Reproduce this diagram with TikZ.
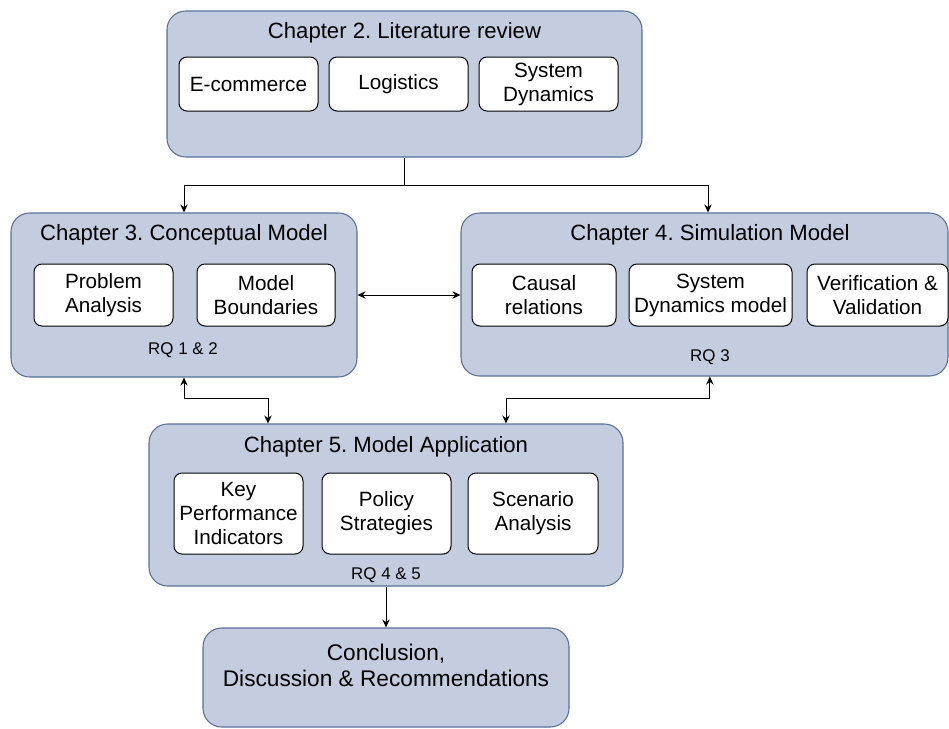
\documentclass[tikz,border=0pt]{standalone}
\usepackage{fontspec}
\setmainfont{Liberation Sans}
\usetikzlibrary{arrows.meta}
\definecolor{chapfill}{RGB}{196,205,223}
\definecolor{chapline}{RGB}{90,112,150}
\frenchspacing
\begin{document}
\begin{tikzpicture}[x=0.75pt,y=-0.75pt,
  chapter/.style={draw=chapline, fill=chapfill, line width=0.8pt,
    rounded corners=14pt, inner sep=0pt},
  topic/.style={draw=black, fill=white, line width=0.75pt,
    rounded corners=6pt, inner sep=0pt, align=center,
    font=\fontsize{15.5}{18}\selectfont},
  title/.style={font=\fontsize{16.6}{19}\selectfont, inner sep=0pt},
  rq/.style={font=\fontsize{12.7}{14}\selectfont, inner sep=0pt},
  link/.style={line width=0.75pt, -{Stealth[length=6pt,width=5.5pt]}},
  dlink/.style={line width=0.75pt, {Stealth[length=6pt,width=5.5pt]}-{Stealth[length=6pt,width=5.5pt]}}]

\useasboundingbox (0,0) rectangle (949,728);

% chapter containers
\node[chapter, minimum width=356.25pt, minimum height=109.5pt] (ch2) at (404.5,84) {};
\node[chapter, minimum width=259.5pt, minimum height=123pt] (ch3) at (184,295) {};
\node[chapter, minimum width=365.25pt, minimum height=122.25pt] (ch4) at (704.5,294.5) {};
\node[chapter, minimum width=355.5pt, minimum height=121.5pt] (ch5) at (386,505) {};
\node[chapter, minimum width=274.5pt, minimum height=74.25pt] (conc) at (386,677.5) {};

% chapter titles
\node[title] (t2) at (404.5,33) {Chapter 2. Literature review};
\node[title] (t3) at (184,235) {Chapter 3. Conceptual Model};
\node[title] (t4) at (710,235) {Chapter 4. Simulation Model};
\node[title] (t5) at (386,447) {Chapter 5. Model Application};
\node[font=\fontsize{17}{19.5}\selectfont, align=center, inner sep=0pt] (tc) at (386,665)
  {Conclusion,\\Discussion \& Recommendations};

% research question labels
\node[rq] (rq12) at (183,350) {RQ 1 \& 2};
\node[rq] (rq3) at (710,357) {RQ 3};
\node[rq] (rq45) at (386,575) {RQ 4 \& 5};

% chapter 2 topics
\node[topic, minimum width=104.25pt, minimum height=40.5pt] (ecom) at (248.5,84) {E-commerce};
\node[topic, minimum width=104.25pt, minimum height=40.5pt] (logi) at (398.5,84) {Logistics};
\node[topic, minimum width=104.25pt, minimum height=40.5pt] (sd) at (548.5,84) {System\\Dynamics};

% chapter 3 topics
\node[topic, minimum width=104.25pt, minimum height=46.5pt] (prob) at (103.5,295) {Problem\\Analysis};
\node[topic, minimum width=103.5pt, minimum height=46.5pt] (bound) at (266,295) {Model\\Boundaries};

% chapter 4 topics
\node[topic, minimum width=108pt, minimum height=46.5pt] (causal) at (544,295) {Causal\\relations};
\node[topic, minimum width=122.25pt, minimum height=46.5pt] (sdm) at (710.5,295) {System\\Dynamics model};
\node[topic, minimum width=105.75pt, minimum height=46.5pt] (vv) at (877.5,295) {Verification \&\\Validation};

% chapter 5 topics
\node[topic, minimum width=96.75pt, minimum height=60.75pt] (kpi) at (238.5,513.5) {Key\\Performance\\Indicators};
\node[topic, minimum width=96.75pt, minimum height=60.75pt] (pol) at (386.5,513.5) {Policy\\Strategies};
\node[topic, minimum width=97.5pt, minimum height=60.75pt] (scen) at (533,513.5) {Scenario\\Analysis};

% connectors
\coordinate (split) at (404.5,185);
\coordinate (to4) at (708,185);
\draw[line width=0.75pt] (ch2.south) -- (split);
\draw[link] (split) -| (ch3.north);
\draw[link] (split) -- (to4) -- (to4 |- ch4.north);

\draw[dlink] (ch3.east) -- (ch3.east -| ch4.west);

\coordinate (k3) at (268,398);
\draw[dlink] (ch3.south) |- (k3) -- (k3 |- ch5.north);

\coordinate (k4) at (506,398);
\draw[dlink] ([xshift=4pt]ch4.south) |- (k4) -- (k4 |- ch5.north);

\draw[link] (ch5.south) -- (conc.north);

\end{tikzpicture}
\end{document}
